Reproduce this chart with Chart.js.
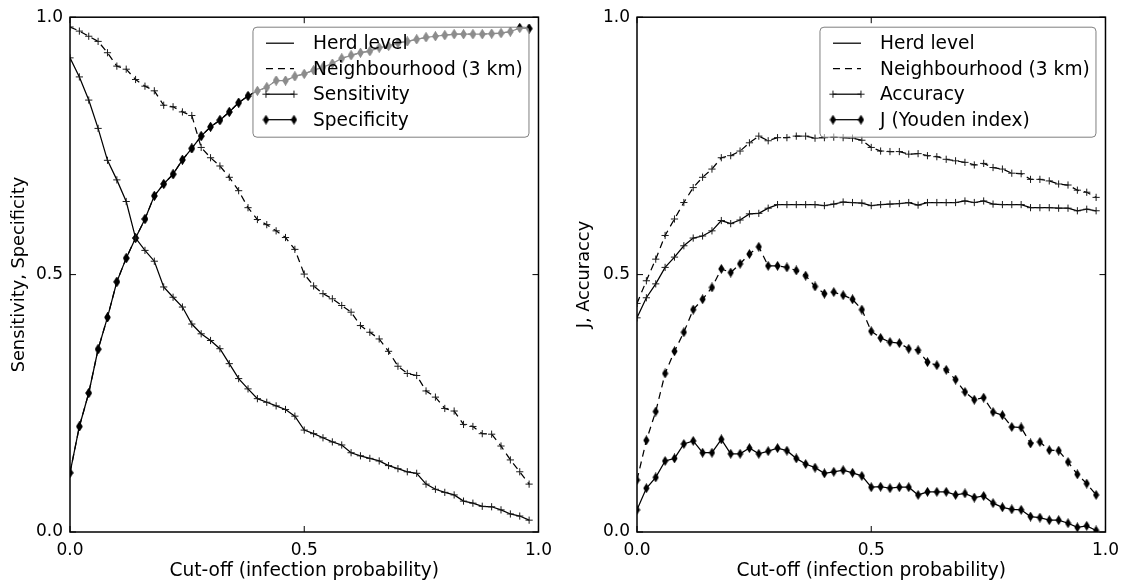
<!DOCTYPE html>
<html>
<head>
<meta charset="utf-8">
<script src="https://cdn.jsdelivr.net/npm/chart.js@4"></script>
<style>
html,body{margin:0;padding:0;background:#fff;overflow:hidden;width:1127px;height:582px}
canvas{position:absolute;top:0}
</style>
</head>
<body>
<canvas id="leftChart" width="560" height="582" style="left:0;width:560px;height:582px"></canvas>
<canvas id="rightChart" width="562" height="582" style="left:565px;width:562px;height:582px"></canvas>
<script>
// ---- data ----
const cutoffs = [0.00,0.02,0.04,0.06,0.08,0.10,0.12,0.14,0.16,0.18,0.20,0.22,0.24,0.26,0.28,0.30,0.32,0.34,0.36,0.38,0.40,0.42,0.44,0.46,0.48,0.50,0.52,0.54,0.56,0.58,0.60,0.62,0.64,0.66,0.68,0.70,0.72,0.74,0.76,0.78,0.80,0.82,0.84,0.86,0.88,0.90,0.92,0.94,0.96,0.98];

const herdSensitivity = [0.921,0.884,0.839,0.784,0.722,0.684,0.642,0.571,0.547,0.526,0.476,0.456,0.437,0.404,0.385,0.372,0.356,0.327,0.298,0.278,0.259,0.252,0.245,0.238,0.225,0.198,0.191,0.183,0.175,0.169,0.154,0.148,0.143,0.138,0.129,0.123,0.117,0.114,0.093,0.083,0.077,0.072,0.060,0.056,0.050,0.049,0.043,0.035,0.031,0.023];
const neighSensitivity = [0.981,0.973,0.963,0.953,0.931,0.905,0.899,0.879,0.866,0.857,0.829,0.826,0.816,0.809,0.747,0.727,0.711,0.689,0.663,0.630,0.607,0.597,0.585,0.572,0.549,0.501,0.478,0.463,0.453,0.440,0.427,0.401,0.388,0.375,0.351,0.322,0.308,0.304,0.274,0.262,0.240,0.235,0.209,0.205,0.191,0.190,0.167,0.140,0.117,0.093];
const herdSpecificity = [0.115,0.205,0.270,0.355,0.417,0.486,0.532,0.571,0.608,0.653,0.676,0.695,0.723,0.745,0.769,0.787,0.800,0.816,0.834,0.847,0.857,0.864,0.877,0.877,0.885,0.890,0.897,0.903,0.910,0.920,0.926,0.931,0.934,0.941,0.944,0.950,0.953,0.957,0.961,0.963,0.965,0.967,0.967,0.967,0.967,0.968,0.969,0.972,0.979,0.978];
const neighSpecificity = [0.115,0.205,0.270,0.355,0.417,0.486,0.532,0.571,0.608,0.653,0.676,0.695,0.723,0.745,0.769,0.787,0.800,0.816,0.834,0.847,0.857,0.864,0.877,0.877,0.885,0.890,0.897,0.903,0.910,0.920,0.926,0.931,0.934,0.941,0.944,0.950,0.953,0.957,0.961,0.963,0.965,0.967,0.967,0.967,0.967,0.968,0.969,0.972,0.979,0.978];

const herdAccuracy = [0.416,0.455,0.482,0.514,0.534,0.556,0.571,0.575,0.585,0.605,0.599,0.606,0.618,0.619,0.629,0.636,0.636,0.636,0.636,0.636,0.634,0.637,0.641,0.640,0.639,0.634,0.636,0.637,0.638,0.640,0.635,0.640,0.640,0.640,0.640,0.643,0.640,0.643,0.637,0.636,0.636,0.636,0.630,0.630,0.630,0.629,0.629,0.624,0.627,0.624];
const neighAccuracy = [0.444,0.488,0.530,0.576,0.608,0.640,0.669,0.689,0.705,0.727,0.731,0.740,0.756,0.769,0.760,0.766,0.766,0.769,0.769,0.765,0.766,0.767,0.766,0.765,0.761,0.747,0.740,0.739,0.739,0.734,0.735,0.731,0.729,0.724,0.721,0.718,0.713,0.716,0.708,0.705,0.697,0.696,0.685,0.685,0.682,0.676,0.674,0.664,0.660,0.650];
const herdYouden = [0.043,0.085,0.106,0.138,0.143,0.171,0.177,0.154,0.154,0.180,0.152,0.152,0.163,0.152,0.157,0.163,0.158,0.143,0.132,0.125,0.114,0.117,0.120,0.115,0.109,0.087,0.088,0.085,0.087,0.087,0.072,0.078,0.078,0.078,0.072,0.075,0.067,0.070,0.056,0.048,0.044,0.043,0.030,0.028,0.023,0.023,0.017,0.009,0.012,0.003];
const neighYouden = [0.101,0.178,0.234,0.308,0.351,0.388,0.432,0.452,0.475,0.511,0.504,0.521,0.540,0.554,0.517,0.517,0.514,0.508,0.498,0.477,0.463,0.466,0.460,0.452,0.432,0.390,0.377,0.369,0.367,0.356,0.353,0.330,0.324,0.315,0.296,0.272,0.257,0.261,0.233,0.227,0.204,0.203,0.172,0.175,0.159,0.158,0.136,0.112,0.094,0.072];

const axisTicks = [0, 0.5, 1];
const xTitle = 'Cut-off (infection probability)';
const leftYTitle = 'Sensitivity, Specificity';
const rightYTitle = 'J, Accuraccy';
const leftLegendLabels = ['Herd level', 'Neighbourhood (3 km)', 'Sensitivity', 'Specificity'];
const rightLegendLabels = ['Herd level', 'Neighbourhood (3 km)', 'Accuracy', 'J (Youden index)'];

// ---- styling ----
const FONT = 'DejaVu Sans';
const DASH = [7, 5];
const LW = 1.25;

function makeDiamond() {
  const c = document.createElement('canvas');
  c.width = 7; c.height = 10;
  const g = c.getContext('2d');
  g.fillStyle = '#000';
  g.beginPath();
  g.moveTo(3.5, 0); g.lineTo(6.6, 5); g.lineTo(3.5, 10); g.lineTo(0.4, 5);
  g.closePath(); g.fill();
  return c;
}
const diamond = makeDiamond();

function pts(arr) { return cutoffs.map((x, i) => ({x: x, y: arr[i]})); }

function ds(arr, dashed, marker) {
  return {
    data: pts(arr),
    borderColor: '#000',
    borderWidth: LW,
    borderDash: dashed ? DASH : [],
    pointStyle: marker === 'plus' ? 'cross' : diamond,
    pointRadius: 3.6,
    pointBorderColor: '#1a1a1a',
    pointBackgroundColor: '#000',
    pointBorderWidth: 1,
    tension: 0,
    fill: false
  };
}

function drawMarker(ctx, kind, x, y) {
  if (kind === 'plus') {
    ctx.save(); ctx.setLineDash([]); ctx.strokeStyle = '#1a1a1a'; ctx.lineWidth = 1;
    ctx.beginPath(); ctx.moveTo(x - 3.6, y); ctx.lineTo(x + 3.6, y);
    ctx.moveTo(x, y - 3.6); ctx.lineTo(x, y + 3.6); ctx.stroke(); ctx.restore();
  } else if (kind === 'diamond') {
    ctx.drawImage(diamond, x - 3.5, y - 5);
  }
}

function framePlugin(legendLabels, legendKinds) {
  return {
    id: 'frameLegend',
    afterDraw(chart) {
      const ctx = chart.ctx;
      const a = chart.chartArea;
      const xs = chart.scales.x, ys = chart.scales.y;
      ctx.save();
      // frame
      ctx.strokeStyle = '#000'; ctx.lineWidth = 1.5; ctx.setLineDash([]);
      ctx.strokeRect(a.left, a.top, a.right - a.left, a.bottom - a.top);
      // inner ticks on all four sides
      ctx.lineWidth = 1;
      axisTicks.forEach(v => {
        const px = xs.getPixelForValue(v), py = ys.getPixelForValue(v);
        ctx.beginPath();
        ctx.moveTo(px, a.bottom); ctx.lineTo(px, a.bottom - 6);
        ctx.moveTo(px, a.top); ctx.lineTo(px, a.top + 6);
        ctx.moveTo(a.left, py); ctx.lineTo(a.left + 6, py);
        ctx.moveTo(a.right, py); ctx.lineTo(a.right - 6, py);
        ctx.stroke();
      });
      // legend (semi-transparent box inside the axes, upper right)
      const bw = 276, bh = 110;
      const bx = a.right - 9.5 - bw, by = a.top + 10;
      ctx.beginPath();
      ctx.roundRect(bx, by, bw, bh, 4);
      ctx.fillStyle = 'rgba(255,255,255,0.55)';
      ctx.fill();
      ctx.strokeStyle = '#7f7f7f'; ctx.lineWidth = 1;
      ctx.stroke();
      ctx.font = '18.6px "' + FONT + '"';
      ctx.textBaseline = 'middle'; ctx.textAlign = 'left';
      legendLabels.forEach((lab, i) => {
        const y = by + 16 + i * 25.5;
        const x0 = bx + 13, x1 = bx + 41;
        const k = legendKinds[i];
        ctx.strokeStyle = '#000'; ctx.lineWidth = LW;
        ctx.setLineDash(k === 'dashed' ? DASH : []);
        ctx.beginPath(); ctx.moveTo(x0, y); ctx.lineTo(x1, y); ctx.stroke();
        ctx.setLineDash([]);
        if (k === 'plus' || k === 'diamond') { drawMarker(ctx, k, x0, y); drawMarker(ctx, k, x1, y); }
        ctx.fillStyle = '#000';
        ctx.fillText(lab, bx + 60, y + 1);
      });
      ctx.restore();
    }
  };
}

function makeChart(id, datasets, yTitle, legendLabels, rightPad, yWidth) {
  return new Chart(document.getElementById(id), {
    type: 'line',
    data: { datasets: datasets },
    options: {
      responsive: false,
      animation: false,
      devicePixelRatio: 1,
      events: [],
      layout: { padding: { top: 16, right: rightPad, left: 0, bottom: 0 } },
      plugins: { legend: { display: false }, tooltip: { enabled: false } },
      scales: {
        x: {
          type: 'linear', min: 0, max: 1,
          afterFit(s) { s.height = 50; },
          grid: { display: false, drawTicks: false },
          border: { display: false },
          afterBuildTicks(s) { s.ticks = axisTicks.map(v => ({value: v})); },
          ticks: { padding: 8, color: '#000', font: { family: FONT, size: 17 }, maxRotation: 0, autoSkip: false,
                   callback: v => Number(v).toFixed(1) },
          title: { display: true, text: xTitle, color: '#000', font: { family: FONT, size: 18.6 }, padding: { top: 0, bottom: 0 } }
        },
        y: {
          type: 'linear', min: 0, max: 1,
          afterFit(s) { s.width = yWidth; },
          grid: { display: false, drawTicks: false },
          border: { display: false },
          afterBuildTicks(s) { s.ticks = axisTicks.map(v => ({value: v})); },
          ticks: { padding: 7, color: '#000', font: { family: FONT, size: 17 }, autoSkip: false,
                   callback: v => Number(v).toFixed(1) },
          title: { display: true, text: yTitle, color: '#000', font: { family: FONT, size: 17.8 }, padding: { top: 9, bottom: 0 } }
        }
      }
    },
    plugins: [framePlugin(legendLabels, ['solid', 'dashed', 'plus', 'diamond'])]
  });
}

makeChart('leftChart', [
  ds(herdSensitivity, false, 'plus'),
  ds(neighSensitivity, true, 'plus'),
  ds(herdSpecificity, false, 'diamond'),
  ds(neighSpecificity, true, 'diamond')
], leftYTitle, leftLegendLabels, 18, 70);

makeChart('rightChart', [
  ds(herdAccuracy, false, 'plus'),
  ds(neighAccuracy, true, 'plus'),
  ds(herdYouden, false, 'diamond'),
  ds(neighYouden, true, 'diamond')
], rightYTitle, rightLegendLabels, 19, 72);
</script>
</body>
</html>
